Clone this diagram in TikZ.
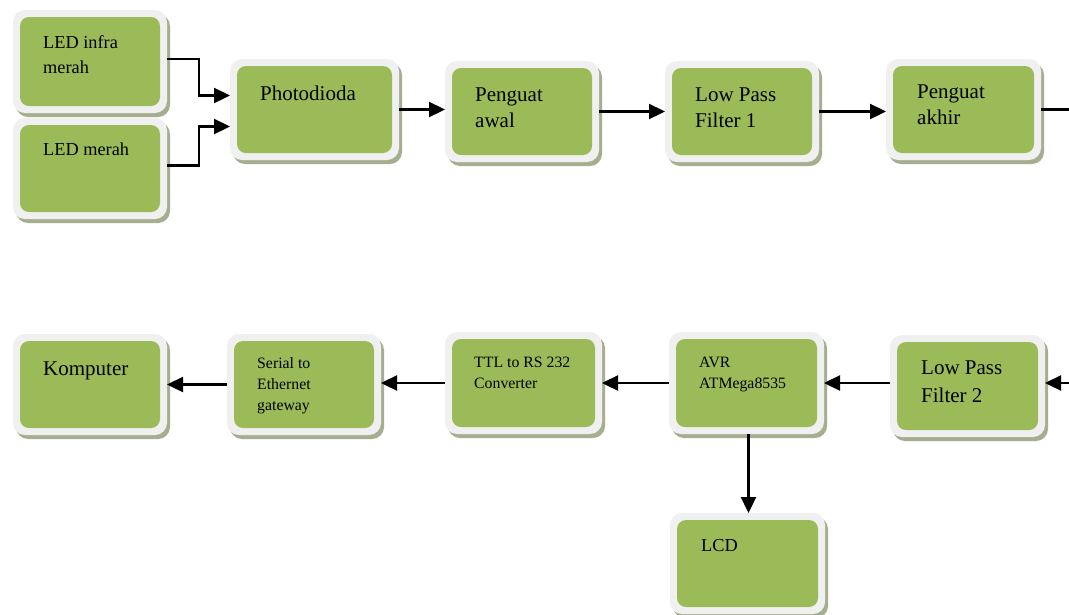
\documentclass[tikz,border=0pt]{standalone}
\usepackage{fontspec}
\setmainfont{Liberation Serif}
\usetikzlibrary{arrows.meta,fit,calc}
\definecolor{boxgreen}{HTML}{9BBB59}
\definecolor{framegray}{HTML}{F0F0F0}
\definecolor{shadowc}{HTML}{A5AE8F}
\newcommand{\fbig}{\fontsize{21}{26.5}\selectfont}
\newcommand{\fmid}{\fontsize{18.3}{25}\selectfont}
\newcommand{\fsmall}{\fontsize{15.8}{21}\selectfont}
\newcommand{\mlines}[1]{\begin{tabular}[t]{@{}l@{}}#1\end{tabular}}
\tikzset{
  frame/.style={fill=framegray, rounded corners=12pt, inner sep=0pt, outer sep=0pt},
  greenbox/.style={fill=boxgreen, rounded corners=9pt, inner sep=0pt, outer sep=0pt},
  shade/.style={fill=shadowc, rounded corners=12pt},
  ln/.style={line width=2.3pt},
  arr/.style={line width=2.3pt, -{Triangle[length=16pt,width=15pt]}},
  txt/.style={anchor=base west, inner sep=0pt, text=black}
}
% name, green box x1,y1,x2,y2 (pixel coords)
\newcommand{\diabox}[5]{%
  \fill[shade] (#2-4,#3-3) rectangle (#4+10,#5+11);
  \node[frame, fit={(#2-7,#3-7) (#4+7,#5+7)}] (#1) {};
  \node[greenbox, fit={(#2,#3) (#4,#5)}] (#1-g) {};
}
\begin{document}
\begin{tikzpicture}[x=1pt,y=-1pt]
\useasboundingbox (0,0) rectangle (1069,614);
\fill[white] (0,0) rectangle (1069,614);

% top row
\diabox{led1}{20}{17}{160}{106}
\diabox{led2}{20}{125}{160}{212}
\diabox{pd}{237}{66}{392}{153}
\diabox{pa}{452}{68}{592}{155}
\diabox{lpfa}{672}{68}{812}{155}
\diabox{pak}{893}{66}{1034}{153}
% bottom row
\diabox{komp}{20}{341}{160}{428}
\diabox{ser}{234}{341}{374}{428}
\diabox{ttl}{452}{339}{595}{427}
\diabox{avr}{676}{339}{817}{427}
\diabox{lpfb}{897}{342}{1038}{430}
\diabox{lcd}{677}{520}{818}{607}

% texts
\node[txt, font=\fmid] (led1-t) at (43,48) {\mlines{LED infra\\merah}};
\node[txt, font=\fmid] (led2-t) at (43,155) {LED merah};
\node[txt, font=\fbig] (pd-t) at (260,100) {Photodioda};
\node[txt, font=\fbig] (pa-t) at (475,101) {\mlines{Penguat\\awal}};
\node[txt, font=\fbig] (lpfa-t) at (695,101) {\mlines{Low Pass\\Filter 1}};
\node[txt, font=\fbig] (pak-t) at (917,98) {\mlines{Penguat\\akhir}};
\node[txt, font=\fbig] (komp-t) at (43,375) {Komputer};
\node[txt, font=\fsmall] (ser-t) at (257,368) {\mlines{Serial to\\Ethernet\\gateway}};
\node[txt, font=\fsmall] (ttl-t) at (474,367) {\mlines{TTL to RS 232\\Converter}};
\node[txt, font=\fsmall] (avr-t) at (699,367) {\mlines{AVR\\ATMega8535}};
\node[txt, font=\fontsize{21}{28}\selectfont] (lpfb-t) at (921,374) {\mlines{Low Pass\\Filter 2}};
\node[txt, font=\fmid] (lcd-t) at (701,551) {LCD};

% free ends at right edge
\coordinate (rt1) at (1069,107);
\coordinate (rt2) at (1069,383);

% connectors
\draw[arr] ($(led1.east)+(0,-2.5)$) -- ++(32,0) |- ($(pd.west)+(0,-14)$);
\draw[arr] ($(led2.east)+(0,-3)$) -- ++(32,0) |- ($(pd.west)+(0,17)$);
\draw[arr] (pd.east) -- (pd.east -| pa.west);
\draw[arr] (pa.east) -- (pa.east -| lpfa.west);
\draw[arr] (lpfa.east) -- (lpfa.east -| pak.west);
\draw[ln] (pak.east) -- (pak.east -| rt1);

\draw[arr] (rt2) -- (rt2 -| lpfb.east);
\draw[arr] (avr.east -| lpfb.west) -- (avr.east);
\draw[arr] (avr.west) -- (avr.west -| ttl.east);
\draw[arr] (ttl.west) -- (ttl.west -| ser.east);
\draw[arr] (ser.west) -- (ser.west -| komp.east);
\coordinate (avrs) at ($(avr.south)+(2,0)$);
\draw[arr] (avrs) -- (avrs |- lcd.north);
\end{tikzpicture}
\end{document}
